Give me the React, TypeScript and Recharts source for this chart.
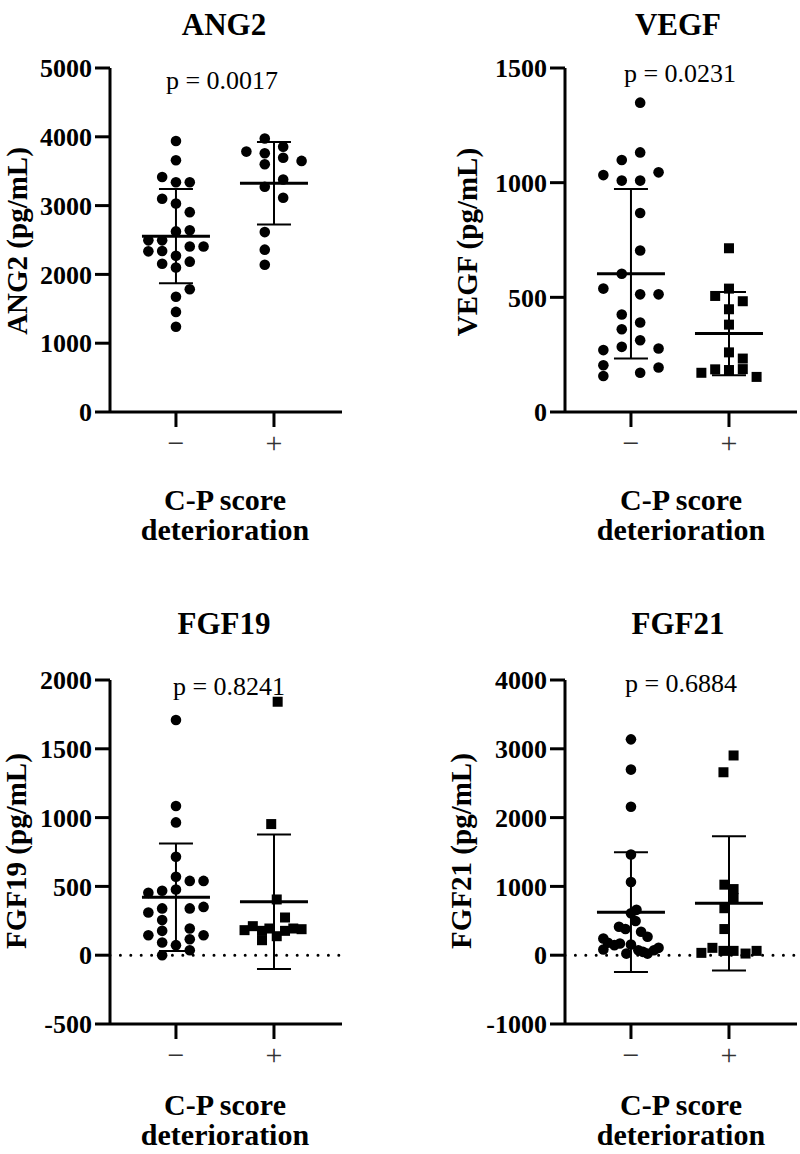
import React from "react";
import { ScatterChart, Scatter, XAxis, YAxis, ErrorBar, ReferenceLine } from "recharts";

const FONT = '"Liberation Serif", "Times New Roman", Times, serif';

const groupLabels = ["\u2212", "+"];
const groupX = [1, 2];

// ANG2
const ang2Neg = [3940, 3660, 3415, 3340, 3340, 3100, 3030, 2905, 2625, 2640, 2495, 2495, 2335, 2340, 2405, 2405, 2270, 2155, 2100, 2185, 1785, 1675, 1455, 1240];
const ang2NegLane = [0, 0, -1.5, 0, 1.5, -1.5, 0, 1.5, 0, 1.5, -3, -1.5, -3, -1.5, 1.5, 3, 0, -1.5, 0, 1.5, 1.5, 0, 0, 0];
const ang2Pos = [3975, 3855, 3785, 3760, 3695, 3650, 3600, 3380, 3275, 3115, 2615, 2360, 2140];
const ang2PosLane = [-1, 1, -3, -1, 1, 3, -1, 1, -1, 1, -1, -1, -1];
const ang2Ticks = [0, 1000, 2000, 3000, 4000, 5000];

// VEGF
const vegfNeg = [1349, 1132, 1099, 1033, 1045, 1009, 1009, 868, 704, 603, 538, 513, 513, 425, 361, 390, 313, 284, 270, 277, 204, 157, 171, 194];
const vegfNegLane = [1, 1, -1, -3, 3, -1, 1, 1, 1, -1, -3, 1, 3, -1, -1, 1, 1, -1, -3, 3, -3, -3, 1, 3];
const vegfPos = [714, 538, 506, 483, 448, 381, 260, 233, 187, 183, 186, 171, 153];
const vegfPosLane = [0, 0, -1.5, 1.5, 0, 0, 0, 1.5, 1.5, 0, -1.5, -3, 3];
const vegfTicks = [0, 500, 1000, 1500];

// FGF19
const fgf19Neg = [1709, 1084, 965, 715, 570, 540, 540, 453, 468, 478, 310, 340, 340, 351, 255, 145, 177, 194, 145, 92, 73, 116, 36, 0];
const fgf19NegLane = [0, 0, 0, 0, 0, 1.5, 3, -3, -1.5, 0, -3, -1.5, 1.5, 3, -1.5, -3, -1.5, 1.5, 3, -1.5, 0, 1.5, 1.5, -1.5];
const fgf19Pos = [1842, 953, 405, 274, 182, 211, 177, 194, 109, 138, 177, 194, 189];
const fgf19PosLane = [0.4, -0.3, 0.3, 1.2, -3.2, -2.3, -1.3, -0.5, -1.3, 0.3, 1.2, 2.1, 3];
const fgf19Ticks = [-500, 0, 500, 1000, 1500, 2000];

// FGF21
const fgf21Neg = [3137, 2698, 2157, 1464, 1063, 609, 659, 414, 380, 497, 341, 268, 243, 180, 146, 170, 82, 155, 23, 73, 49, 23, 73, 107];
const fgf21NegLane = [0, 0, 0, 0, 0, 0, 0.6, -1.3, -0.6, 0.5, 1.1, 1.8, -3, -2.5, -1.8, -1.2, -3, 0, -0.5, 0.8, 1.3, 1.8, 2.5, 3];
const fgf21Pos = [2903, 2659, 1025, 961, 829, 683, 380, 34, 107, 63, 63, 24, 63];
const fgf21PosLane = [0.5, -0.6, -0.5, 0.5, 0.5, -0.5, -0.5, -3, -1.8, -0.6, 0.5, 1.8, 3];
const fgf21Ticks = [-1000, 0, 1000, 2000, 3000, 4000];

// x domain so that the two groups sit 98px apart on a 232px axis
const X_DOMAIN: [number, number] = [0.327, 2.694];
const JITTER = 9.2 / 98;

const mean = (a: number[]) => a.reduce((s, v) => s + v, 0) / a.length;
const sd = (a: number[]) => {
  const m = mean(a);
  return Math.sqrt(a.reduce((s, v) => s + (v - m) * (v - m), 0) / (a.length - 1));
};

const toPoints = (values: number[], lanes: number[], gx: number) =>
  values.map((v, i) => ({ x: gx + lanes[i] * JITTER, y: v }));

const summary = (neg: number[], pos: number[]) => [
  { x: groupX[0], y: mean(neg), sd: sd(neg) },
  { x: groupX[1], y: mean(pos), sd: sd(pos) },
];

const Dot = (p: any) => <circle cx={p.cx} cy={p.cy} r={5.3} fill="#000" />;
const Square = (p: any) => <rect x={p.cx - 5} y={p.cy - 5} width={10} height={10} fill="#000" />;
const MeanLine = (p: any) => (
  <line x1={p.cx - 34} x2={p.cx + 34} y1={p.cy} y2={p.cy} stroke="#000" strokeWidth={3} />
);

type PanelProps = {
  left: number;
  top: number;
  ticks: number[];
  neg: number[];
  negLane: number[];
  pos: number[];
  posLane: number[];
  posShape: any;
  zeroLine?: boolean;
};

function Panel({ left, top, ticks, neg, negLane, pos, posLane, posShape, zeroLine }: PanelProps) {
  return (
    <div style={{ position: "absolute", left, top }}>
      <ScatterChart width={345} height={462} margin={{ top: 68, right: 3, bottom: 0, left: 0 }}>
        <XAxis
          type="number"
          dataKey="x"
          domain={X_DOMAIN}
          ticks={groupX}
          allowDataOverflow
          tickFormatter={(v: number) => (v === 1 ? groupLabels[0] : groupLabels[1])}
          axisLine={{ stroke: "#000", strokeWidth: 3 }}
          tickLine={{ stroke: "#000", strokeWidth: 3 }}
          tickSize={15}
          tickMargin={5}
          height={50}
          tick={{ fontSize: 30, fill: "#333", fontFamily: FONT }}
        />
        <YAxis
          type="number"
          dataKey="y"
          domain={[ticks[0], ticks[ticks.length - 1]]}
          ticks={ticks}
          interval={0}
          allowDataOverflow
          width={110}
          axisLine={{ stroke: "#000", strokeWidth: 3 }}
          tickLine={{ stroke: "#000", strokeWidth: 3 }}
          tickSize={15}
          tickMargin={3}
          tick={{ fontSize: 26, fontWeight: 700, fill: "#000", fontFamily: FONT }}
        />
        {zeroLine && (
          <ReferenceLine
            y={0}
            stroke="#000"
            strokeWidth={3}
            strokeDasharray="0 10.4"
            strokeLinecap="round"
          />
        )}
        <Scatter data={toPoints(neg, negLane, groupX[0])} shape={Dot} isAnimationActive={false} />
        <Scatter data={toPoints(pos, posLane, groupX[1])} shape={posShape} isAnimationActive={false} />
        <Scatter data={summary(neg, pos)} shape={MeanLine} isAnimationActive={false}>
          <ErrorBar dataKey="sd" direction="y" width={17} stroke="#000" strokeWidth={2} isAnimationActive={false} />
        </Scatter>
      </ScatterChart>
    </div>
  );
}

const titleStyle = { fontSize: 31, fontWeight: 700, fontFamily: FONT } as const;
const pStyle = { fontSize: 26, fontFamily: FONT } as const;
const yLabelStyle = { fontSize: 29, fontWeight: 700, fontFamily: FONT } as const;
const xTitleStyle = { fontSize: 30, fontWeight: 700, fontFamily: FONT } as const;

function YLabel({ x, y, text }: { x: number; y: number; text: string }) {
  return (
    <text x={x} y={y} transform={`rotate(-90 ${x} ${y})`} textAnchor="middle" style={yLabelStyle}>
      {text}
    </text>
  );
}

function XTitle({ cx, y }: { cx: number; y: number }) {
  return (
    <>
      <text x={cx} y={y} textAnchor="middle" style={xTitleStyle}>C-P score</text>
      <text x={cx} y={y + 30} textAnchor="middle" style={xTitleStyle}>deterioration</text>
    </>
  );
}

export default function App() {
  return (
    <div
      style={{
        position: "absolute",
        left: 0,
        top: 0,
        width: 800,
        height: 1154,
        background: "#fff",
        overflow: "hidden",
      }}
    >
      <Panel left={0} top={0} ticks={ang2Ticks} neg={ang2Neg} negLane={ang2NegLane} pos={ang2Pos} posLane={ang2PosLane} posShape={Dot} />
      <Panel left={455} top={0} ticks={vegfTicks} neg={vegfNeg} negLane={vegfNegLane} pos={vegfPos} posLane={vegfPosLane} posShape={Square} />
      <Panel left={0} top={612} ticks={fgf19Ticks} neg={fgf19Neg} negLane={fgf19NegLane} pos={fgf19Pos} posLane={fgf19PosLane} posShape={Square} zeroLine />
      <Panel left={455} top={612} ticks={fgf21Ticks} neg={fgf21Neg} negLane={fgf21NegLane} pos={fgf21Pos} posLane={fgf21PosLane} posShape={Square} zeroLine />

      <svg width={800} height={1154} style={{ position: "absolute", left: 0, top: 0, pointerEvents: "none" }}>
        <text x={224} y={35} textAnchor="middle" style={titleStyle}>ANG2</text>
        <text x={678} y={35} textAnchor="middle" style={titleStyle}>VEGF</text>
        <text x={224} y={634} textAnchor="middle" style={titleStyle}>FGF19</text>
        <text x={678} y={634} textAnchor="middle" style={titleStyle}>FGF21</text>

        <text x={222} y={89} textAnchor="middle" style={pStyle}>p = 0.0017</text>
        <text x={680} y={82} textAnchor="middle" style={pStyle}>p = 0.0231</text>
        <text x={229} y={695} textAnchor="middle" style={pStyle}>p = 0.8241</text>
        <text x={681} y={692} textAnchor="middle" style={pStyle}>p = 0.6884</text>

        <YLabel x={27} y={241} text="ANG2 (pg/mL)" />
        <YLabel x={477} y={242} text="VEGF (pg/mL)" />
        <YLabel x={26} y={851} text="FGF19 (pg/mL)" />
        <YLabel x={471} y={851} text="FGF21 (pg/mL)" />

        <XTitle cx={225} y={510} />
        <XTitle cx={681} y={510} />
        <XTitle cx={225} y={1115} />
        <XTitle cx={681} y={1115} />
      </svg>
    </div>
  );
}
